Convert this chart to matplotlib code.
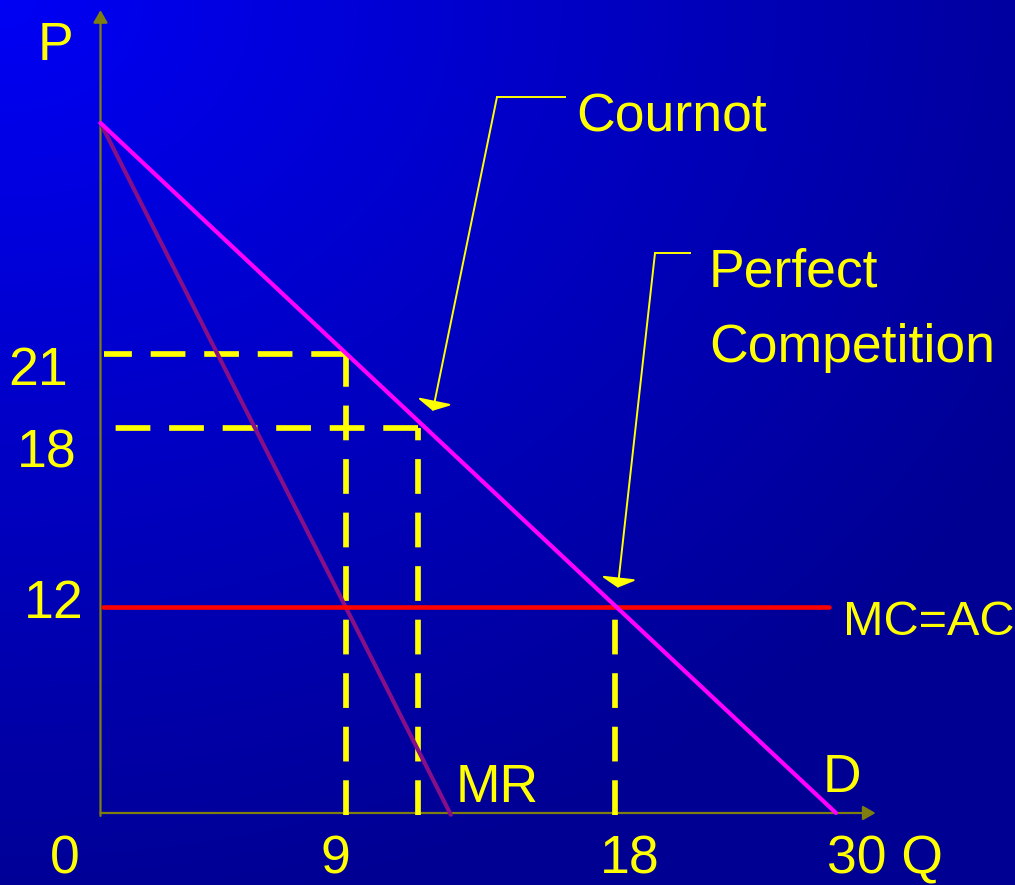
import numpy as np
import matplotlib
matplotlib.use("Agg")
import matplotlib.pyplot as plt
from matplotlib.patches import ArrowStyle

# ---------------- data ----------------
demand_q = [0, 30]
demand_p = [30, 0]
mr_q = [0, 13.0]
mr_p = [30, -0.1]
mc_q = [0.1, 29.6]
mc_p = [12, 12]
monopoly_q, monopoly_p = 9, 21
cournot_q, cournot_p = 12, 18
perfect_q, perfect_p = 18, 12
cournot_tip = (12.45, 18.7)
perfect_tip = (18.15, 12.65)
x_axis_end = 32.15
y_axis_end = 34.4
x_tick_labels = ["0", "9", "18", "30 Q"]
y_tick_labels = ["21", "18", "12"]

# ---------------- layout ----------------
W, H = 1015, 885
QK = [0, 9, 12, 18, 30]
QX = [100.5, 346, 418, 615, 836]
PK = [0, 12, 18, 21, 30]
PY = [H - 813, H - 607, H - 428, H - 354, H - 123]


def piecewise(knots, pix):
    k = np.asarray(knots, float)
    p = np.asarray(pix, float)

    def lin(v, a, b):
        v = np.asarray(v, float)
        out = np.interp(v, a, b)
        s0 = (b[1] - b[0]) / (a[1] - a[0])
        s1 = (b[-1] - b[-2]) / (a[-1] - a[-2])
        out = np.where(v < a[0], b[0] + (v - a[0]) * s0, out)
        out = np.where(v > a[-1], b[-1] + (v - a[-1]) * s1, out)
        return out

    return (lambda v: lin(v, k, p)), (lambda u: lin(u, p, k))


fx, ix = piecewise(QK, QX)
fy, iy = piecewise(PK, PY)

fig = plt.figure(figsize=(W / 100, H / 100), dpi=100)

# background gradient
yy, xx = np.mgrid[0:H, 0:W]
r = np.sqrt((xx / 1015.0) ** 2 + (yy / 800.0) ** 2)
b = np.maximum(148, 245 - 85 * r) / 255.0
grad = np.zeros((H, W, 3))
grad[..., 2] = b
bg = fig.add_axes([0, 0, 1, 1])
bg.imshow(grad, extent=[0, 1, 0, 1], aspect="auto", origin="upper")
bg.axis("off")

ax = fig.add_axes([0, 0, 1, 1])
ax.set_xscale("function", functions=(fx, ix))
ax.set_yscale("function", functions=(fy, iy))
ax.set_xlim(float(ix(0)), float(ix(W)))
ax.set_ylim(float(iy(0)), float(iy(H)))
ax.axis("off")

OLIVE = "#7f7f10"
YEL = "#FFFF00"

# axes arrows
ax.annotate("", xy=(x_axis_end, 0), xytext=(0, 0),
            arrowprops=dict(arrowstyle="-|>,head_length=0.75,head_width=0.43",
                            mutation_scale=10, color=OLIVE, lw=1.6,
                            shrinkA=0, shrinkB=0), zorder=2)
ax.annotate("", xy=(0, y_axis_end), xytext=(0, -0.17),
            arrowprops=dict(arrowstyle="-|>,head_length=0.75,head_width=0.43",
                            mutation_scale=10, color=OLIVE, lw=1.6,
                            shrinkA=0, shrinkB=0), zorder=2)

# dashed guides
dash_kw = dict(color=YEL, lw=4.1, dashes=(6.1, 3.3), dash_capstyle="butt", zorder=3)
ax.plot([monopoly_q, 0.13], [monopoly_p, monopoly_p], **dash_kw)
ax.plot([cournot_q, 0.45], [cournot_p, cournot_p], **dash_kw)
ax.plot([monopoly_q, monopoly_q], [-0.1, monopoly_p], **dash_kw)
ax.plot([cournot_q, cournot_q], [-0.1, cournot_p], **dash_kw)
ax.plot([perfect_q, perfect_q], [-0.1, perfect_p], **dash_kw)

# curves
ax.plot(mr_q, mr_p, color="#870f87", lw=3.0, solid_capstyle="round", zorder=4)
ax.plot(mc_q, mc_p, color="#FF0000", lw=3.3, solid_capstyle="round", zorder=4)
ax.plot(demand_q, demand_p, color="#FF00FF", lw=3.0, solid_capstyle="round", zorder=5)


def fp(x, y):
    return (x / W, 1 - y / H)


# callouts
head = ArrowStyle("-|>", head_length=5.8, head_width=10.8)
for (x1, y1), (x2, y2), tip in [((565, 97), (497, 97), cournot_tip),
                                ((690, 253), (655, 253), perfect_tip)]:
    ax.plot([x1 / W, x2 / W], [1 - y1 / H, 1 - y2 / H], color=YEL, lw=1.4,
            transform=fig.transFigure, zorder=6)
    ax.annotate("", xy=tip, xycoords="data", xytext=fp(x2, y2),
                textcoords="figure fraction",
                arrowprops=dict(arrowstyle=head, mutation_scale=1, color=YEL,
                                lw=1.4, shrinkA=0, shrinkB=0), zorder=6)

FONT = ["Liberation Sans", "DejaVu Sans"]
FS = 38.5


def label(s, x, y, ha="center", fs=FS):
    fx_, fy_ = fp(x, y)
    fig.text(fx_, fy_, s, ha=ha, va="baseline", color=YEL, fontsize=fs,
             family=FONT)


label("P", 56, 60)
label("Cournot", 672, 132)
label("Perfect", 709, 287, ha="left")
label("Competition", 709, 362, ha="left")
for s, (x, y) in zip(y_tick_labels, [(38.5, 385), (47, 467), (53.5, 618)]):
    label(s, x, y)
for s, (x, y) in zip(x_tick_labels, [(65, 873), (335, 873), (630, 873), (885, 873)]):
    label(s, x, y)
label("MC=AC", 929, 635, fs=35)
label("D", 842, 792)
label("MR", 497, 802)

fig.savefig("out.png", dpi=100)
